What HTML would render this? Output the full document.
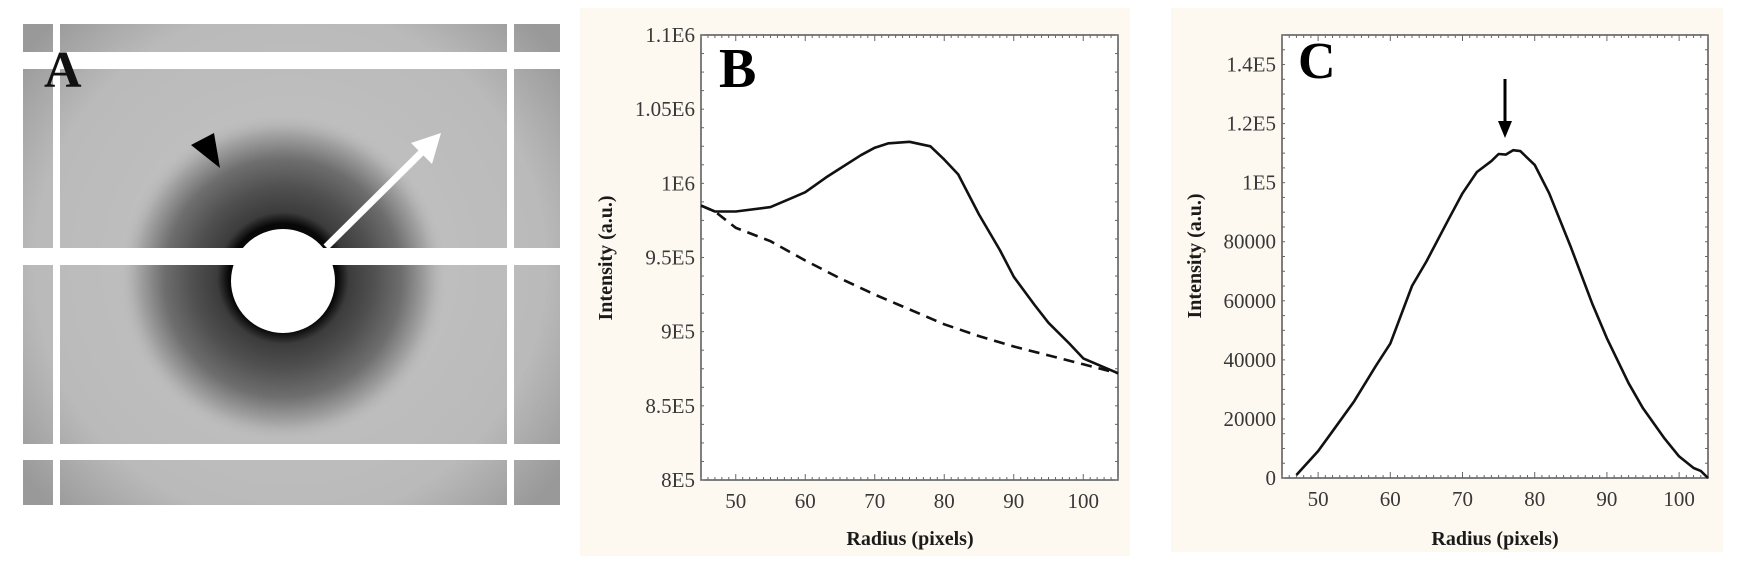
<!DOCTYPE html>
<html><head><meta charset="utf-8">
<style>
html,body{margin:0;padding:0;background:#fff;width:1742px;height:570px;overflow:hidden}
svg{display:block}
text{font-family:"Liberation Serif",serif}
.tk{font-size:21px;fill:#383838}
.ttl{font-size:20px;font-weight:bold;fill:#1a1a1a}
</style></head>
<body>
<svg id="root" width="1742" height="570" viewBox="0 0 1742 570">
<defs>
  <radialGradient id="ring" cx="283" cy="278" r="165" gradientUnits="userSpaceOnUse">
    <stop offset="0" stop-color="#000"/>
    <stop offset="0.33" stop-color="#080808"/>
    <stop offset="0.40" stop-color="#3c3c3c"/>
    <stop offset="0.55" stop-color="#505050"/>
    <stop offset="0.72" stop-color="#6e6e6e"/>
    <stop offset="0.88" stop-color="#a5a5a5"/>
    <stop offset="1" stop-color="#bdbdbd" stop-opacity="0"/>
  </radialGradient>
  <radialGradient id="bg" cx="290" cy="265" r="340" gradientUnits="userSpaceOnUse">
    <stop offset="0" stop-color="#c4c4c4"/>
    <stop offset="0.75" stop-color="#bababa"/>
    <stop offset="1" stop-color="#999"/>
  </radialGradient>
</defs>

<!-- Panel A -->
<g>
  <rect x="23" y="24" width="537" height="481" fill="url(#bg)"/>
  <circle cx="283" cy="278" r="165" fill="url(#ring)"/>
  <rect x="53" y="24" width="7" height="481" fill="#fff"/>
  <rect x="507" y="24" width="7" height="481" fill="#fff"/>
  <rect x="23" y="52" width="537" height="17" fill="#fff"/>
  <rect x="23" y="248" width="537" height="17" fill="#fff"/>
  <rect x="23" y="444" width="537" height="16" fill="#fff"/>
  <rect x="0" y="0" width="23" height="570" fill="#fff"/>
  <rect x="560" y="0" width="20" height="570" fill="#fff"/>
  <rect x="0" y="505" width="580" height="65" fill="#fff"/>
  <rect x="0" y="0" width="580" height="24" fill="#fff"/>
  <circle cx="283" cy="281" r="52" fill="#fff"/>
  <line x1="326" y1="247" x2="428" y2="146" stroke="#fff" stroke-width="7"/>
  <polygon points="441,133 432,164 411,143" fill="#fff"/>
  <polygon points="191,145 214,133 220,168" fill="#000"/>
  <text x="44" y="87" font-size="52" font-weight="bold" fill="#111">A</text>
</g>

<!-- Panel B -->
<g id="panelB">
  <rect x="580" y="8" width="550" height="548" fill="#fdf9f0"/>
  <rect x="701" y="35" width="417" height="445" fill="#fff" stroke="#555" stroke-width="1.5"/>
  <text x="719" y="87" font-size="56" font-weight="bold" fill="#000">B</text>
  <text class="ttl" x="910" y="545" text-anchor="middle">Radius (pixels)</text>
  <text class="ttl" transform="translate(612,258) rotate(-90)" text-anchor="middle">Intensity (a.u.)</text>
</g>

<!-- Panel C -->
<g id="panelC">
  <rect x="1171" y="8" width="552" height="544" fill="#fdf9f0"/>
  <rect x="1282" y="35" width="426" height="443" fill="#fff" stroke="#555" stroke-width="1.5"/>
  <text x="1298" y="78" font-size="52" font-weight="bold" fill="#000">C</text>
  <line x1="1505" y1="79" x2="1505" y2="125" stroke="#000" stroke-width="3"/>
  <polygon points="1498,121 1512,121 1505,138" fill="#000"/>
  <text class="ttl" x="1495" y="545" text-anchor="middle">Radius (pixels)</text>
  <text class="ttl" transform="translate(1201,256) rotate(-90)" text-anchor="middle">Intensity (a.u.)</text>
</g>
</svg>

<script>
// ---- Panel B data ----
const bRadius = [45,47,50,55,58,60,63,65,68,70,72,75,78,80,82,85,88,90,93,95,98,100,103,105];
const bTotal = [985000,981000,981000,984000,990000,994000,1004000,1010000,1019000,1024000,1027000,1028000,1025000,1016000,1006000,979000,955000,937000,918000,906000,892000,882000,876000,872000];
const bBgRadius = [45,47,50,55,60,65,70,75,80,85,90,95,100,105];
const bBackground = [985000,981000,970000,961000,948000,936000,925000,915000,905000,897000,890000,884000,878000,872000];
const bYTicks = [800000,850000,900000,950000,1000000,1050000,1100000];
const bYLabels = ["8E5","8.5E5","9E5","9.5E5","1E6","1.05E6","1.1E6"];
const bXTicks = [50,60,70,80,90,100];

// ---- Panel C data ----
const cRadius = [47,50,52,55,58,60,63,65,68,70,72,74,75,76,77,78,80,82,85,88,90,93,95,98,100,102,103,104];
const cIntensity = [1000,9100,15800,26000,38000,45500,65000,73300,87300,96400,103600,107300,109700,109500,111000,110700,106000,96400,78200,58800,47300,32100,23600,13300,7300,3400,2400,0];
const cYTicks = [0,20000,40000,60000,80000,100000,120000,140000];
const cYLabels = ["0","20000","40000","60000","80000","1E5","1.2E5","1.4E5"];
const cXTicks = [50,60,70,80,90,100];

const NS = "http://www.w3.org/2000/svg";
function mk(tag, attrs, parent){
  const e = document.createElementNS(NS, tag);
  for (const k in attrs) e.setAttribute(k, attrs[k]);
  parent.appendChild(e);
  return e;
}
function linScale(d0,d1,r0,r1){ return v => r0 + (v-d0)/(d1-d0)*(r1-r0); }

function drawAxes(g, xS, yS, xTicks, yTicks, yLabels, box, xMin, xMax, prefix){
  for (let v = Math.ceil(xMin); v <= xMax; v++){
    const x = xS(v);
    const len = (v % 10 === 0) ? 6 : 3;
    const t1 = mk('line',{x1:x,y1:box.b,x2:x,y2:box.b-len,stroke:'#666','stroke-width':1},g);
    
    
    const t2 = mk('line',{x1:x,y1:box.t,x2:x,y2:box.t+len,stroke:'#666','stroke-width':1},g);
    
    
  }
  const step = (yTicks[1]-yTicks[0])/4;
  for (let v = yTicks[0]; v <= yS.max + 1; v += step){
    const y = yS(v);
    const t1 = mk('line',{x1:box.l,y1:y,x2:box.l+3,y2:y,stroke:'#666','stroke-width':1},g);
    
    
    const t2 = mk('line',{x1:box.r,y1:y,x2:box.r-3,y2:y,stroke:'#666','stroke-width':1},g);
    
    
  }
  xTicks.forEach(v=>{
    const t = mk('text',{x:xS(v),y:box.b+28,'text-anchor':'middle',class:'tk'},g);
    t.textContent = v;
    
    
  });
  yTicks.forEach((v,i)=>{
    const t = mk('text',{x:box.l-6,y:yS(v)+7,'text-anchor':'end',class:'tk'},g);
    t.textContent = yLabels[i];
    
    
  });
}
function pathD(xs, ys, xS, yS){
  return xs.map((x,i)=>(i?'L':'M')+xS(x).toFixed(1)+','+yS(ys[i]).toFixed(1)).join(' ');
}

(function(){
  const g = document.getElementById('panelB');
  const box = {l:701,r:1118,t:35,b:480};
  const xS = linScale(45,105,box.l,box.r);
  const yS = linScale(800000,1100000,box.b,box.t); yS.max = 1100000;
  drawAxes(g,xS,yS,bXTicks,bYTicks,bYLabels,box,45,105,'panel-b');
  const bg = mk('path',{d:pathD(bBgRadius,bBackground,xS,yS),fill:'none',stroke:'#111','stroke-width':2.6,'stroke-dasharray':'11,7'},g);
  
  
  const tot = mk('path',{d:pathD(bRadius,bTotal,xS,yS),fill:'none',stroke:'#111','stroke-width':2.6,'stroke-linejoin':'round'},g);
  
  
})();

(function(){
  const g = document.getElementById('panelC');
  const box = {l:1282,r:1708,t:35,b:478};
  const xS = linScale(45,104,box.l,box.r);
  const yS = linScale(0,150000,box.b,box.t); yS.max = 150000;
  drawAxes(g,xS,yS,cXTicks,cYTicks,cYLabels,box,45,104,'panel-c');
  const p = mk('path',{d:pathD(cRadius,cIntensity,xS,yS),fill:'none',stroke:'#111','stroke-width':2.6,'stroke-linejoin':'round'},g);
  
  
})();
</script>
</body></html>
